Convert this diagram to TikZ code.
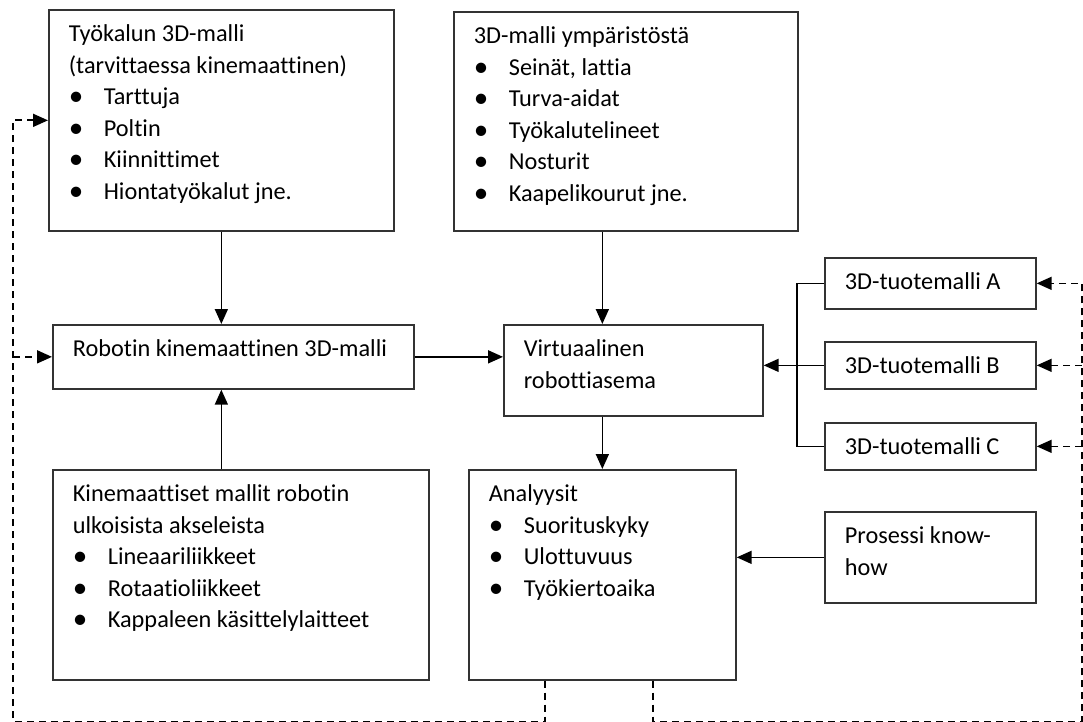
\documentclass[tikz,border=0pt]{standalone}
\usepackage{fontspec}
\setmainfont{Carlito}[Ligatures={NoCommon}]
\usetikzlibrary{arrows.meta}
% box body: width, height, text
\newcommand{\boxtxt}[3]{\begin{minipage}[t][#2pt][t]{#1pt}\raggedright\leftskip=20pt\rule{0pt}{32pt}#3\end{minipage}}
\newcommand{\itm}[1]{\par\makebox[35pt][l]{\raisebox{-0.8pt}{\scalebox{1.2}{\textbullet}}}#1}
\begin{document}
\begin{tikzpicture}[x=1pt,y=1pt]
    \tikzstyle{every node}+=[inner sep=0pt]
    \tikzstyle{blk}=[draw=black!80, line width=1.7pt, anchor=north west, font=\fontsize{24.3}{31.5}\selectfont]
    \tikzstyle{arr}=[black, line width=1.7pt, -{Triangle[length=15pt,width=13pt]}]
    \tikzstyle{fb}=[arr, dash pattern=on 7pt off 5pt]
    \useasboundingbox (0,0) rectangle (1083,-722);
    \node [blk] (tool) at (48,-9) {\boxtxt{345}{221}{Työkalun 3D-malli\par (tarvittaessa kinemaattinen)\itm{Tarttuja}\itm{Poltin}\itm{Kiinnittimet}\itm{Hiontatyökalut jne.}}};
    \node [blk] (env) at (453,-11) {\boxtxt{344}{219}{3D-malli ympäristöstä\itm{Seinät, lattia}\itm{Turva-aidat}\itm{Työkalutelineet}\itm{Nosturit}\itm{Kaapelikourut jne.}}};
    \node [blk] (robot) at (52,-324) {\boxtxt{361}{64}{Robotin kinemaattinen 3D-malli}};
    \node [blk] (virt) at (503,-324) {\boxtxt{259}{91}{Virtuaalinen\par robottiasema}};
    \node [blk] (protA) at (824,-257) {\boxtxt{211}{51}{3D-tuotemalli A}};
    \node [blk] (protB) at (824,-341) {\boxtxt{211}{47}{3D-tuotemalli B}};
    \node [blk] (protC) at (824,-422) {\boxtxt{211}{47}{3D-tuotemalli C}};
    \node [blk] (kin) at (52,-469) {\boxtxt{376}{210}{Kinemaattiset mallit robotin\par ulkoisista akseleista\itm{Lineaariliikkeet}\itm{Rotaatioliikkeet}\itm{Kappaleen käsittelylaitteet}}};
    \node [blk] (ana) at (468,-469) {\boxtxt{267}{210}{Analyysit\itm{Suorituskyky}\itm{Ulottuvuus}\itm{Työkiertoaika}}};
    \node [blk] (pro) at (824,-511) {\boxtxt{211}{91}{Prosessi know-\par how}};
    \coordinate (bl) at (13,-721.5);
    \coordinate (br) at (1082,-721.5);
    % solid connectors
    \draw [arr] (tool.south) -- (tool.south |- robot.north);
    \draw [arr] (kin.north -| tool.south) -- (robot.south -| tool.south);
    \draw [arr] (env.south -| ana.north) -- (virt.north -| ana.north);
    \draw [arr] (virt.south -| ana.north) -- (ana.north);
    \draw [arr] (robot.east) -- (robot.east -| virt.west);
    \draw [arr] (protB.west) -- (protB.west -| virt.east);
    \draw [black, line width=1.7pt] (protA.west) -| ([xshift=-27pt]protB.west) |- (protC.west);
    \draw [arr] (pro.west) -- (pro.west -| ana.east);
    % feedback
    \draw [fb] ([xshift=-57.5pt]ana.south) |- (bl) |- (tool.west);
    \draw [fb] (bl |- robot.west) -- (robot.west);
    \draw [fb] ([xshift=50.5pt]ana.south) |- (br) |- (protA.east);
    \draw [fb] (br |- protB.east) -- (protB.east);
    \draw [fb] (br |- protC.east) -- (protC.east);
\end{tikzpicture}
\end{document}
